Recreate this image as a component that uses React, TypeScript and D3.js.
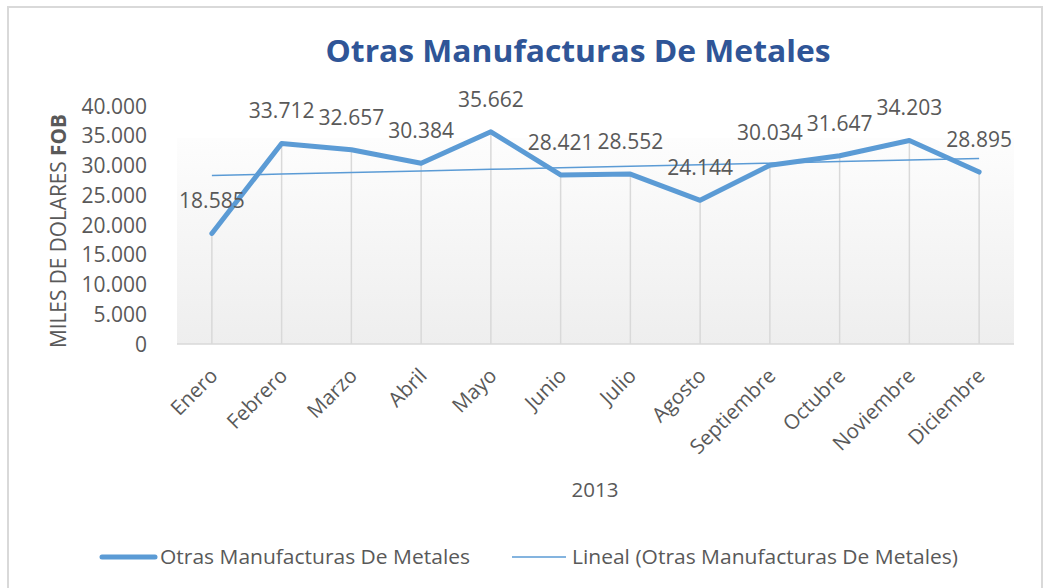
import React from 'react';
import * as d3 from 'd3';

const months = [
  'Enero', 'Febrero', 'Marzo', 'Abril', 'Mayo', 'Junio',
  'Julio', 'Agosto', 'Septiembre', 'Octubre', 'Noviembre', 'Diciembre',
];
const values = [
  18585, 33712, 32657, 30384, 35662, 28421,
  28552, 24144, 30034, 31647, 34203, 28895,
];
const yTicks = [0, 5000, 10000, 15000, 20000, 25000, 30000, 35000, 40000];

const title = 'Otras Manufacturas De Metales';
const seriesName = 'Otras Manufacturas De Metales';
const trendName = 'Lineal (Otras Manufacturas De Metales)';
const xTitle = '2013';

const W = 1044;
const H = 588;
const plot = { left: 177, right: 1014, top: 106, bottom: 344, fillTop: 138 };
const txt = '#595959';
const blue = '#5B9BD5';
const font = '"Open Sans", sans-serif';

const fmt = d3.formatLocale({
  decimal: ',',
  thousands: '.',
  grouping: [3],
  currency: ['$', ''],
}).format(',d');

const App: React.FC = () => {
  const x = d3.scaleBand<string>()
    .domain(months)
    .range([plot.left, plot.right]);
  const cx = (m: string) => (x(m) ?? 0) + x.bandwidth() / 2;

  const y = d3.scaleLinear()
    .domain([0, 40000])
    .range([plot.bottom, plot.top]);

  const line = d3.line<number>()
    .x((_, i) => cx(months[i]))
    .y((d) => y(d));

  // least squares trend line (like Excel's "Lineal")
  const idx = values.map((_, i) => i + 1);
  const mx = d3.mean(idx)!;
  const my = d3.mean(values)!;
  const slope = d3.sum(idx, (v, i) => (v - mx) * (values[i] - my)) /
    d3.sum(idx, (v) => (v - mx) ** 2);
  const icpt = my - slope * mx;
  const trend = idx.map((v) => icpt + slope * v);

  return (
    <svg width={W} height={H} style={{ position: 'absolute', left: 0, top: 0, background: '#fff' }}>
      <defs>
        <linearGradient id="plotFill" x1="0" y1="0" x2="0" y2="1">
          <stop offset="0%" stopColor="#fdfdfd" />
          <stop offset="100%" stopColor="#eeeeee" />
        </linearGradient>
      </defs>
      <rect x={8} y={7} width={1034} height={H} fill="#fff" stroke="#d9d9d9" strokeWidth={2} />

      <text x={578} y={62} textAnchor="middle" fontFamily={font} fontWeight="bold"
        fontSize={31} fill="#2F5597" textLength={505} lengthAdjust="spacingAndGlyphs">
        {title}
      </text>

      <rect x={plot.left} y={plot.fillTop} width={plot.right - plot.left}
        height={plot.bottom - plot.fillTop} fill="url(#plotFill)" />

      {/* drop lines */}
      {values.map((v, i) => (
        <line key={months[i]} x1={cx(months[i])} x2={cx(months[i])} y1={y(v)} y2={plot.bottom}
          stroke="#d9d9d9" strokeWidth={1.5} />
      ))}
      <line x1={plot.left} x2={plot.right} y1={plot.bottom} y2={plot.bottom} stroke="#d9d9d9" strokeWidth={1.5} />

      {/* y axis */}
      {yTicks.map((t) => (
        <text key={t} x={147} y={y(t)} dy="0.36em" textAnchor="end" fontFamily={font}
          fontSize={21} fill={txt}>{fmt(t)}</text>
      ))}
      <text transform={`translate(66,${(plot.top + plot.bottom) / 2 + 6}) rotate(-90)`} textAnchor="middle"
        fontFamily={font} fontSize={21} fill={txt} textLength={234} lengthAdjust="spacingAndGlyphs">
        MILES DE DOLARES <tspan fontWeight="bold">FOB</tspan>
      </text>

      {/* x axis */}
      {months.map((m) => (
        <text key={m} transform={`translate(${cx(m) + 7},${plot.bottom + 33}) rotate(-45)`}
          textAnchor="end" fontFamily={font} fontSize={20.5} fill={txt}>{m}</text>
      ))}
      <text x={595} y={497} textAnchor="middle" fontFamily={font} fontSize={20.5} fill={txt}>{xTitle}</text>

      {/* series */}
      <path d={line(values) ?? ''} fill="none" stroke={blue} strokeWidth={5}
        strokeLinejoin="round" strokeLinecap="round" />
      <path d={line(trend) ?? ''} fill="none" stroke={blue} strokeWidth={1.5} />

      {values.map((v, i) => (
        <text key={months[i]} x={cx(months[i])} y={y(v) - 25} textAnchor="middle"
          fontFamily={font} fontSize={21} fill={txt}>{fmt(v)}</text>
      ))}

      {/* legend */}
      <line x1={102} x2={155} y1={557} y2={557} stroke={blue} strokeWidth={5} strokeLinecap="round" />
      <text x={160} y={564} fontFamily={font} fontSize={20.5} fill={txt}
        textLength={310} lengthAdjust="spacingAndGlyphs">{seriesName}</text>
      <line x1={512} x2={566} y1={557} y2={557} stroke={blue} strokeWidth={1.5} />
      <text x={572} y={564} fontFamily={font} fontSize={20.5} fill={txt}
        textLength={386} lengthAdjust="spacingAndGlyphs">{trendName}</text>
    </svg>
  );
};

export default App;
